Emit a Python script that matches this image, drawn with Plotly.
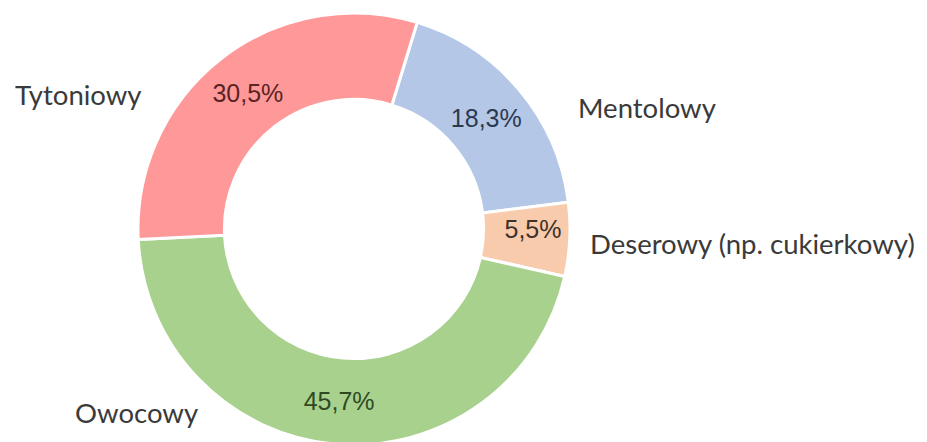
import plotly.graph_objects as go

labels = ["Mentolowy", "Deserowy (np. cukierkowy)", "Owocowy", "Tytoniowy"]
values = [18.3, 5.5, 45.7, 30.5]
colors = ["#B4C7E7", "#F8CBAD", "#A9D18E", "#FF9999"]
text_colors = ["#2c3a4f", "#3f3228", "#2f4a23", "#5b2323"]

W, H = 927, 442
OFF = 8  # default page body margin
cx, cy, R = 354 - OFF, 229 - OFF, 216

fig = go.Figure(go.Pie(
    labels=labels,
    values=values,
    sort=False,
    direction="clockwise",
    rotation=17,
    hole=0.6,
    marker=dict(colors=colors, line=dict(color="white", width=3)),
    texttemplate="%{value:.1f}%",
    textposition="inside",
    insidetextorientation="horizontal",
    textfont=dict(family="Liberation Sans, Arial, sans-serif", size=25, color=text_colors),
    showlegend=False,
    domain=dict(x=[(cx - R) / W, (cx + R) / W], y=[1 - (cy + R) / H, 1 - (cy - R) / H]),
))

label_pos = {
    "Tytoniowy": (13, 95),
    "Mentolowy": (576, 108),
    "Deserowy (np. cukierkowy)": (588, 243),
    "Owocowy": (73, 412),
}
annotations = []
for lab in labels:
    px, py = label_pos[lab]
    annotations.append(dict(
        text=lab, x=(px - OFF) / W, y=1 - (py - OFF) / H, xref="paper", yref="paper",
        xanchor="left", yanchor="middle", showarrow=False,
        font=dict(family="Lato, Carlito, sans-serif", size=27.5, color="#3a3a3a"),
    ))

fig.update_layout(
    width=W, height=H,
    margin=dict(l=0, r=0, t=0, b=0),
    paper_bgcolor="white",
    plot_bgcolor="white",
    separators=", ",
    uniformtext=dict(minsize=25, mode="show"),
    annotations=annotations,
)

fig.write_html("out.html")
